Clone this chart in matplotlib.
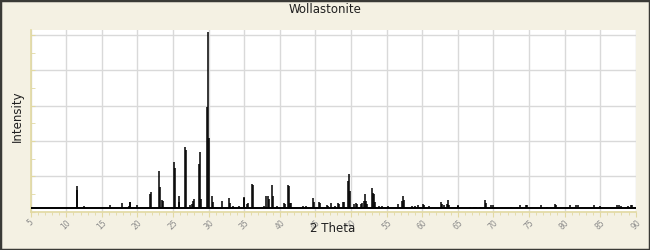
import matplotlib
matplotlib.use('Agg')
import matplotlib.pyplot as plt
from matplotlib.patches import Rectangle
from matplotlib.ticker import MultipleLocator, NullFormatter

plt.rcParams['font.family'] = 'DejaVu Sans'

# peak positions (2 theta, deg) and intensities (counts)
two_theta = [11.46, 11.55, 12.5, 16.2, 17.87, 18.77, 18.9, 18.98, 19.98, 21.8,
             21.95, 23.07, 23.17, 23.5, 23.63, 25.13, 25.27, 25.79, 25.88, 26.72,
             26.8, 27.42, 27.7, 27.84, 27.98, 28.65, 28.79, 28.93, 29.81, 29.95,
             30.05, 30.51, 30.6, 31.92, 32.82, 32.95, 33.47, 34.2, 34.9, 35.0,
             35.35, 35.5, 36.13, 36.27, 37.77, 38.1, 38.33, 38.48, 38.94, 39.08,
             39.56, 40.63, 40.77, 41.19, 41.33, 41.47, 41.6, 43.2, 43.75, 44.7,
             44.85, 45.55, 45.68, 46.67, 46.8, 47.23, 47.8, 48.22, 48.36, 48.92,
             49.06, 49.62, 49.76, 49.9, 50.46, 50.65, 50.8, 51.45, 51.6, 51.78,
             51.93, 52.07, 52.2, 53.0, 53.13, 53.27, 53.4, 53.98, 54.4, 55.24,
             56.64, 57.2, 57.35, 57.5, 58.6, 59.0, 59.45, 60.07, 60.3, 60.9,
             62.6, 62.83, 63.1, 63.44, 63.67, 63.8, 64.98, 65.1, 66.7, 67.28,
             67.5, 68.1, 68.78, 68.92, 69.7, 69.97, 72.5, 73.3, 73.74, 74.58,
             74.7, 76.65, 77.5, 78.66, 78.8, 80.8, 81.6, 81.9, 84.2, 85.0,
             87.4, 87.7, 87.9, 88.6, 88.95, 89.3, 89.5]
intensity = [147, 121, 31, 41, 47, 31, 57, 57, 41, 101,
             113, 230, 138, 68, 62, 282, 250, 57, 91, 367,
             350, 41, 46, 61, 74, 270, 340, 74, 594, 1018,
             415, 91, 57, 62, 79, 51, 31, 31, 79, 85,
             46, 51, 159, 153, 31, 91, 91, 74, 153, 91,
             31, 51, 46, 153, 147, 51, 51, 31, 31, 79,
             57, 57, 51, 41, 31, 51, 31, 51, 46, 57,
             57, 176, 214, 119, 46, 51, 46, 46, 51, 62,
             101, 61, 46, 136, 108, 101, 57, 31, 31, 31,
             46, 62, 91, 68, 31, 31, 41, 46, 41, 31,
             57, 46, 41, 46, 68, 41, 41, 31, 29, 29,
             29, 29, 68, 51, 36, 36, 29, 29, 36, 41,
             41, 36, 29, 46, 36, 36, 36, 41, 36, 31,
             36, 41, 31, 29, 31, 41, 36]
background = 21

beige = '#f4f1e3'
tan = '#e2d9a2'
grid_c = '#d9d9d9'

fig = plt.figure(figsize=(6.5, 2.5), dpi=100, facecolor=beige)
fig.patches.append(Rectangle((0, 0), 1, 1, transform=fig.transFigure,
                             fill=False, edgecolor='#3a3a36', linewidth=2.5))

ax = fig.add_axes([0.0472, 0.153, 0.9308, 0.727])
ax.set_facecolor('white')

ax.hlines(background, 5, 90, color='black', lw=1.4, zorder=3)
ax.vlines(two_theta, background, intensity, color='black', lw=1.1, zorder=3)

ax.set_xlim(5, 90)
ax.set_ylim(0, 1028)
ax.xaxis.set_major_locator(MultipleLocator(5))
ax.xaxis.set_minor_locator(MultipleLocator(1))
ax.yaxis.set_major_locator(MultipleLocator(200))
ax.yaxis.set_minor_locator(MultipleLocator(100))
ax.yaxis.set_major_formatter(NullFormatter())

ax.grid(True, which='major', color=grid_c, lw=1.0, zorder=0)
ax.set_axisbelow(True)

for s in ['top', 'right']:
    ax.spines[s].set_visible(False)
for s in ['left', 'bottom']:
    ax.spines[s].set_color(tan)
    ax.spines[s].set_linewidth(1.2)

ax.tick_params(axis='x', which='major', direction='out', length=3.5, color=tan,
               labelsize=5.5, labelcolor='#8a8a8a', pad=1, labelrotation=45)
ax.tick_params(axis='x', which='minor', direction='out', length=2.5, color=tan)
ax.tick_params(axis='y', which='both', direction='in', length=3, color=tan)
for lbl in ax.get_xticklabels():
    lbl.set_ha('center')

fig.text(0.5, 0.962, 'Wollastonite', ha='center', va='center',
         fontsize=8.5, color='#202020')
fig.text(0.512, 0.088, '2 Theta', ha='center', va='center',
         fontsize=8.5, color='#202020')
fig.text(0.026, 0.537, 'Intensity', ha='center', va='center', rotation=90,
         fontsize=8.5, color='#202020')

fig.savefig('out.png', dpi=100, facecolor=beige)
